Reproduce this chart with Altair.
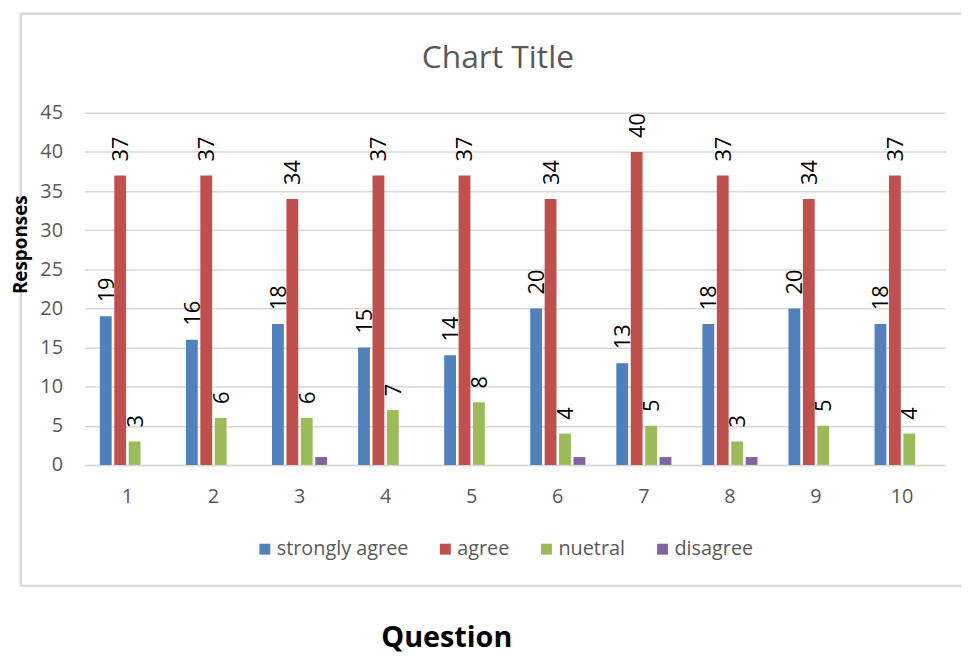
import altair as alt
import pandas as pd

# ---- data ----
questions = ["1", "2", "3", "4", "5", "6", "7", "8", "9", "10"]
series = ["strongly agree", "agree", "nuetral", "disagree"]
strongly_agree = [19, 16, 18, 15, 14, 20, 13, 18, 20, 18]
agree = [37, 37, 34, 37, 37, 34, 40, 37, 34, 37]
nuetral = [3, 6, 6, 7, 8, 4, 5, 3, 5, 4]
disagree = [0, 0, 1, 0, 0, 1, 1, 1, 0, 0]
colors = ["#4f81bd", "#c0504d", "#9bbb59", "#8064a2"]
y_ticks = [0, 5, 10, 15, 20, 25, 30, 35, 40, 45]
chart_title = "Chart Title"
x_title = "Question"
y_title = "Responses"

rows = []
for name, vals in zip(series, [strongly_agree, agree, nuetral, disagree]):
    for q, v in zip(questions, vals):
        rows.append({"Question": q, "series": name, "value": v})
df = pd.DataFrame(rows)

FONT = "Open Sans"
GRAY = "#595959"
GRID = "#d9d9d9"
W, H = 868, 355

x_enc = alt.X(
    "Question:N",
    sort=questions,
    scale=alt.Scale(paddingInner=0.33, paddingOuter=0.165),
    axis=alt.Axis(
        title=x_title, labelAngle=0, labelFont=FONT, labelFontSize=20,
        labelColor=GRAY, labelPadding=22, ticks=False, domainColor=GRID,
        domainWidth=1.5, grid=False, titleFont=FONT, titleFontSize=29,
        titleFontWeight="bold", titleColor="black", titleX=365, titleY=183,
        titleBaseline="alphabetic", titleAlign="center",
    ),
)
xo_enc = alt.XOffset(
    "series:N", sort=series,
    scale=alt.Scale(domain=series, paddingInner=0.18, paddingOuter=0.09),
)
y_enc = alt.Y(
    "value:Q",
    scale=alt.Scale(domain=[0, 45], nice=False),
    axis=alt.Axis(
        values=y_ticks, title=None, domain=False, ticks=False,
        gridColor=GRID, gridWidth=1.5, labelFont=FONT, labelFontSize=20,
        labelColor=GRAY, labelPadding=22,
    ),
)
color_enc = alt.Color(
    "series:N", sort=series,
    scale=alt.Scale(domain=series, range=colors),
    legend=alt.Legend(
        title=None, orient="none", legendX=172, legendY=430,
        direction="horizontal", symbolType="square", symbolSize=121,
        symbolStrokeWidth=0, labelFont=FONT, labelFontSize=20,
        labelColor=GRAY, labelOffset=2, columnPadding=27, padding=0,
    ),
)

bars = alt.Chart(df).mark_bar().encode(x=x_enc, xOffset=xo_enc, y=y_enc, color=color_enc)

labels = (
    alt.Chart(df)
    .transform_filter(alt.datum.series != "disagree")
    .mark_text(angle=270, align="left", baseline="middle", dx=14, dy=1,
               font=FONT, fontSize=22, color="black")
    .encode(x=x_enc, xOffset=xo_enc, y=y_enc, text="value:Q")
)

frame = (
    alt.Chart(alt.Data(values=[{"k": 1}]))
    .mark_rect(fillOpacity=0, stroke=GRID, strokeWidth=2.5)
    .encode(x=alt.value(-64), x2=alt.value(W + 40), y=alt.value(-100), y2=alt.value(477))
)

title = (
    alt.Chart(alt.Data(values=[{"t": chart_title}]))
    .mark_text(font=FONT, fontSize=32, color=GRAY, align="center", baseline="middle")
    .encode(x=alt.value(417), y=alt.value(-55), text="t:N")
)

ytitle = (
    alt.Chart(alt.Data(values=[{"t": y_title}]))
    .mark_text(font=FONT, fontSize=19, fontWeight="bold", color="black",
               angle=270, align="center", baseline="middle")
    .encode(x=alt.value(-64), y=alt.value(133), text="t:N")
)

chart = (
    alt.layer(frame, bars, labels, title, ytitle)
    .properties(
        width=W, height=H,
        autosize=alt.AutoSizeParams(type="none"),
        padding={"left": 77, "top": 103, "right": 16, "bottom": 191},
    )
    .configure_view(stroke=None)
)

chart.save("out.html", embed_options={"renderer": "svg", "actions": False})
